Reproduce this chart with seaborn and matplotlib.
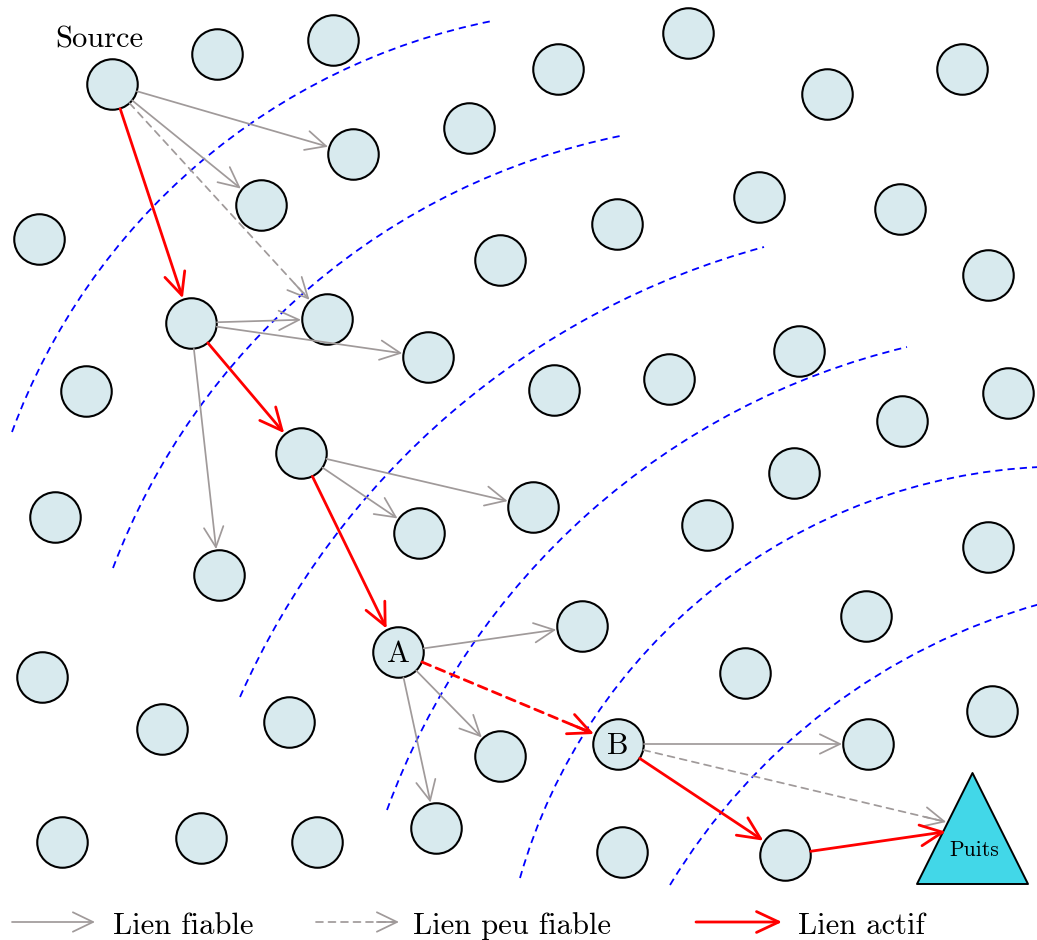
import numpy as np
import pandas as pd
import matplotlib
matplotlib.use("Agg")
import matplotlib.pyplot as plt
import seaborn as sns
from matplotlib.patches import Arc

# noeuds du reseau (coordonnees en pixels, y vers le bas)
node_x = [112, 217, 333, 558, 688, 827, 962, 353, 469, 261,
          39, 500, 617, 759, 900, 988, 191, 327, 428, 86,
          554, 669, 799, 1008, 902, 301, 55, 533, 419, 707,
          794, 988, 219, 398, 582, 866, 42, 745, 162, 289,
          500, 618, 868, 992, 62, 201, 317, 436, 622, 785]
node_y = [84, 54, 40, 69, 33, 94, 69, 154, 128, 205,
          239, 260, 224, 197, 209, 275, 323, 319, 357, 391,
          390, 379, 351, 393, 421, 453, 517, 507, 533, 525,
          473, 547, 575, 652, 626, 616, 677, 673, 729, 722,
          756, 744, 744, 711, 842, 838, 842, 828, 852, 855]
SOURCE, NODE_A, NODE_B = 0, 33, 41

# puits (triangle)
PUITS = 50
puits_x, puits_y = 971.5, 828

# liens : origine, destination
reliable_src = [0, 0, 16, 16, 16, 25, 25, 33, 33, 33, 41]
reliable_dst = [7, 9, 17, 18, 32, 27, 28, 34, 40, 47, 42]
unreliable_src = [0, 41]
unreliable_dst = [17, PUITS]
active_src = [0, 16, 25, 41, 49]
active_dst = [16, 25, 33, 49, PUITS]
active_dashed_src = [33]
active_dashed_dst = [41]

# arcs en pointilles bleus : debut, milieu, fin
arc_start = [(12, 432), (113, 568), (240, 697), (387, 810), (520, 878), (670, 885)]
arc_mid = [(147, 213), (307, 290), (393, 468), (520, 583), (670, 627), (794, 737)]
arc_end = [(492, 21), (620, 136), (764, 247), (907, 347), (1040, 467), (1040, 604)]

legend_labels = ["Lien fiable", "Lien peu fiable", "Lien actif"]

W, H = 1037, 940
PX = 0.72            # points par pixel a 100 dpi
R_PX = 26            # rayon des noeuds

GREY = "#A09A9A"
RED = "#FF0000"
BLUE = "#0000FF"
NODE_FILL = "#D8EAEE"
PUITS_FILL = "#42D7E8"

sns.set_theme(style="white")
plt.rcParams["font.family"] = ["cmr10", "DejaVu Serif"]
plt.rcParams["mathtext.fontset"] = "cm"
plt.rcParams["axes.formatter.use_mathtext"] = True
plt.rcParams["text.color"] = "black"

fig = plt.figure(figsize=(W / 100, H / 100), dpi=100)
ax = fig.add_axes([0, 0, 1, 1])


def circle_through(p1, p2, p3):
    (x1, y1), (x2, y2), (x3, y3) = p1, p2, p3
    d = 2 * (x1 * (y2 - y3) + x2 * (y3 - y1) + x3 * (y1 - y2))
    ux = ((x1**2 + y1**2) * (y2 - y3) + (x2**2 + y2**2) * (y3 - y1) + (x3**2 + y3**2) * (y1 - y2)) / d
    uy = ((x1**2 + y1**2) * (x3 - x2) + (x2**2 + y2**2) * (x1 - x3) + (x3**2 + y3**2) * (x2 - x1)) / d
    return ux, uy, np.hypot(x1 - ux, y1 - uy)


for p1, pm, p2 in zip(arc_start, arc_mid, arc_end):
    cx, cy, r = circle_through(p1, pm, p2)
    a1, am, a2 = [np.degrees(np.arctan2(p[1] - cy, p[0] - cx)) for p in (p1, pm, p2)]
    if (am - a1) % 360 < (a2 - a1) % 360:
        t1, t2 = a1, a2
    else:
        t1, t2 = a2, a1
    ax.add_patch(Arc((cx, cy), 2 * r, 2 * r, theta1=t1, theta2=t2, color=BLUE,
                     lw=1.3, linestyle=(0, (4.0, 2.8)), zorder=1))

# noeuds
nodes = pd.DataFrame({"x": node_x, "y": node_y})
sns.scatterplot(data=nodes, x="x", y="y", s=(50.5 * PX) ** 2, color=NODE_FILL,
                edgecolor="black", linewidth=1.5, ax=ax, zorder=3, legend=False)
sns.scatterplot(x=[puits_x], y=[puits_y], marker="^", s=(111 * PX) ** 2, color=PUITS_FILL,
                edgecolor="black", linewidth=1.4, ax=ax, zorder=3, legend=False)
ax.set_xlim(0, W)
ax.set_ylim(H, 0)
ax.axis("off")


def pos(i):
    if i == PUITS:
        return (puits_x, puits_y)
    return (node_x[i], node_y[i])


def link(p, q, color, lw, hl, hw, dash=None, sa=R_PX, sb=R_PX):
    head = dict(arrowstyle=f"->,head_length={hl},head_width={hw}", color=color, lw=lw,
                shrinkA=sa * PX, shrinkB=sb * PX, mutation_scale=10)
    if dash is None:
        ax.annotate("", xy=q, xytext=p, arrowprops=head, zorder=4)
        return
    ax.annotate("", xy=q, xytext=p, zorder=4,
                arrowprops=dict(arrowstyle="-", color=color, lw=lw, linestyle=dash,
                                shrinkA=sa * PX, shrinkB=(sb + 4) * PX))
    u = np.subtract(q, p) / np.hypot(*np.subtract(q, p))
    h = np.asarray(q) - u * (sb + hl * 10 / PX + 2)
    head["shrinkA"] = 0
    ax.annotate("", xy=q, xytext=tuple(h), arrowprops=head, zorder=4)


for s, d in zip(reliable_src, reliable_dst):
    link(pos(s), pos(d), GREY, 1.25, 1.45, 0.7)
for s, d in zip(unreliable_src, unreliable_dst):
    link(pos(s), pos(d), GREY, 1.25, 1.45, 0.7, dash=(0, (4.0, 3.2)))
for s, d in zip(active_src, active_dst):
    link(pos(s), pos(d), RED, 2.0, 1.6, 0.75)
for s, d in zip(active_dashed_src, active_dashed_dst):
    link(pos(s), pos(d), RED, 2.0, 1.6, 0.75, dash=(0, (3.3, 2.2)))

# etiquettes
ax.text(99.5, 47, "Source", fontsize=22, ha="center", va="baseline", zorder=5)
ax.text(node_x[NODE_A], node_y[NODE_A] + 9.5, "A", fontsize=22, ha="center", va="baseline", zorder=5)
ax.text(node_x[NODE_B], node_y[NODE_B] + 9.5, "B", fontsize=22, ha="center", va="baseline", zorder=5)
ax.text(puits_x + 3, 856, "Puits", fontsize=15.5, ha="center", va="baseline", zorder=5)

# legende
leg_y = 922
link((12, leg_y), (95, leg_y), GREY, 1.25, 1.45, 0.7, sa=0, sb=0)
ax.text(113, 934, legend_labels[0], fontsize=22, ha="left", va="baseline")
link((316, leg_y), (399, leg_y), GREY, 1.25, 1.45, 0.7, dash=(0, (4.0, 3.2)), sa=0, sb=0)
ax.text(413, 934, legend_labels[1], fontsize=22, ha="left", va="baseline")
link((696, leg_y), (782, leg_y), RED, 2.0, 1.6, 0.75, sa=0, sb=0)
ax.text(798, 934, legend_labels[2], fontsize=22, ha="left", va="baseline")

fig.savefig("out.png", dpi=100)
